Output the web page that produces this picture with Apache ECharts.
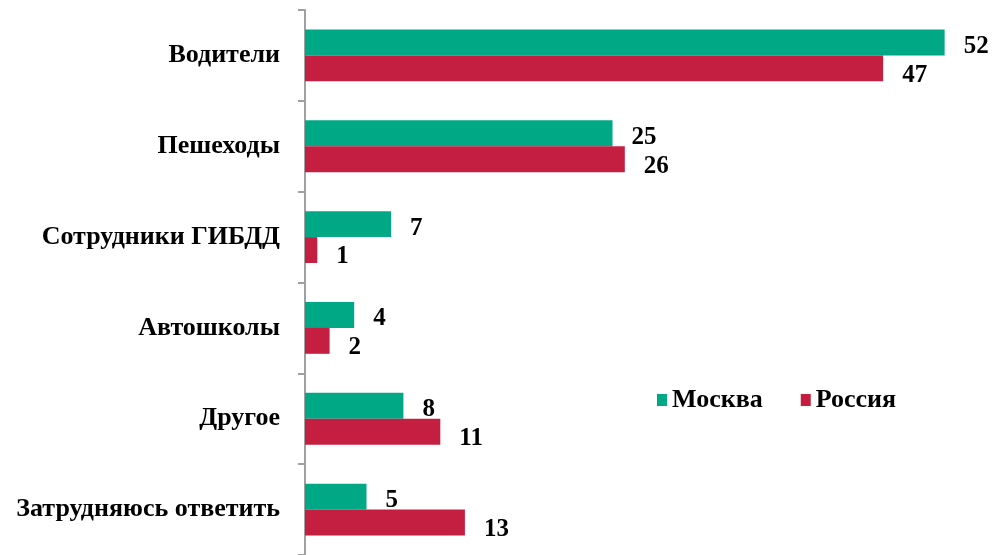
<!DOCTYPE html>
<html>
<head>
<meta charset="utf-8">
<script src="https://cdn.jsdelivr.net/npm/echarts@6/dist/echarts.min.js"></script>
<style>
  html, body { margin: 0; padding: 0; background: #fff; }
  #chart { width: 993px; height: 555px; }
</style>
</head>
<body>
<div id="chart"></div>
<script>
// данные с картинки
var categories = ['Водители', 'Пешеходы', 'Сотрудники ГИБДД', 'Автошколы', 'Другое', 'Затрудняюсь ответить'];
var moscow = [52, 25, 7, 4, 8, 5];
var russia = [47, 26, 1, 2, 11, 13];
var seriesNames = ['Москва', 'Россия'];

var font = '"Liberation Serif", "Times New Roman", serif';

var chart = echarts.init(document.getElementById('chart'));
chart.setOption({
  animation: false,
  grid: { left: 305, right: 9, top: 10, bottom: -1, containLabel: false },
  legend: {
    left: 652,
    top: 382,
    itemWidth: 10,
    itemHeight: 12,
    itemGap: 38,
    icon: 'rect',
    textStyle: { fontFamily: font, fontWeight: 'bold', fontSize: 26, color: '#000' },
    data: seriesNames
  },
  xAxis: {
    type: 'value',
    min: 0,
    max: 55.2,
    show: false
  },
  yAxis: {
    type: 'category',
    inverse: true,
    data: categories,
    axisLine: { show: true, lineStyle: { color: '#a0a0a0', width: 2 } },
    axisTick: { show: true, length: 7, lineStyle: { color: '#a0a0a0', width: 2 } },
    axisLabel: {
      margin: 25,
      fontFamily: font,
      fontWeight: 'bold',
      fontSize: 26,
      color: '#000'
    },
    splitLine: { show: false }
  },
  series: [
    {
      name: seriesNames[0],
      type: 'bar',
      data: moscow,
      barGap: '0%',
      barCategoryGap: '43%',
      itemStyle: { color: '#00a886' },
      label: {
        show: true, position: 'right', distance: 19, offset: [0, 4],
        fontFamily: font, fontWeight: 'bold', fontSize: 25, color: '#000'
      }
    },
    {
      name: seriesNames[1],
      type: 'bar',
      data: russia,
      itemStyle: { color: '#c41f40' },
      label: {
        show: true, position: 'right', distance: 19, offset: [0, 7],
        fontFamily: font, fontWeight: 'bold', fontSize: 25, color: '#000'
      }
    }
  ]
});
</script>
</body>
</html>
